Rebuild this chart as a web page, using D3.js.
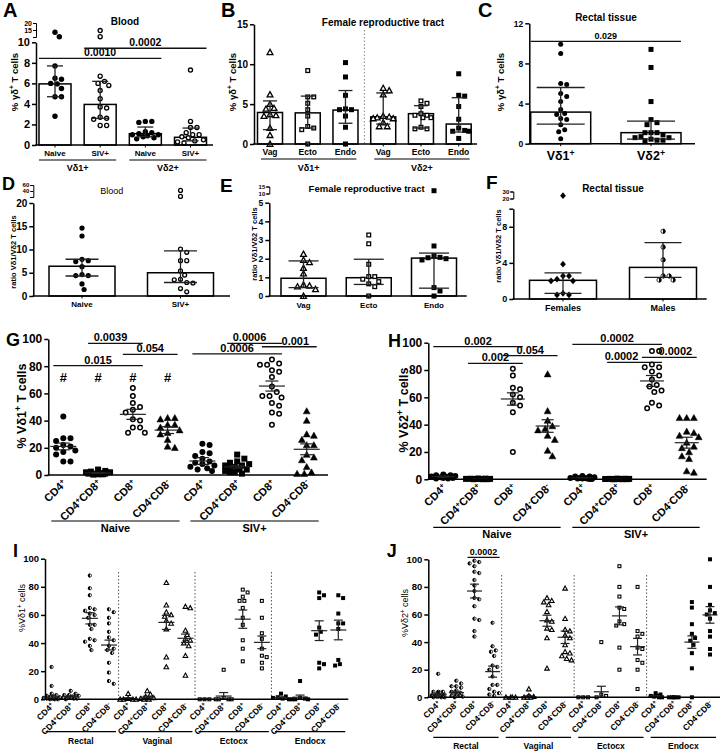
<!DOCTYPE html>
<html><head><meta charset="utf-8">
<script src="https://cdn.jsdelivr.net/npm/d3@7"></script>
<style>body{margin:0;background:#fff}svg{display:block}</style>
</head><body>
<svg id="chart" width="723" height="755"></svg>
<script>
// ================= DATA =================
// Panel A – Blood, % γδ+ T cells (median, IQR)
const aCats = ["Naive","SIV+","Naive","SIV+"];
const aGroups = ["Vδ1+","Vδ2+"];
const aMedian = [5.95, 3.95, 1.1, 0.75];
const aLow = [4.7, 2.6, 0.8, 0.4];
const aHigh = [7.7, 6.2, 1.75, 1.65];
const aPoints = [
  [13.4, 10.2, 7.7, 6.5, 6.4, 6.0, 5.95, 5.5, 4.7, 4.7, 2.8],
  [14.6, 10.2, 6.7, 6.2, 6.0, 5.8, 5.3, 4.5, 3.7, 3.6, 2.7, 2.6, 2.5, 1.9, 1.9],
  [2.3, 2.3, 2.2, 1.3, 1.2, 1.1, 1.0, 1.0, 0.9, 0.8, 0.7, 0.6],
  [7.3, 2.3, 1.7, 1.7, 1.2, 1.0, 1.0, 0.8, 0.7, 0.5, 0.4, 0.3, 0.2]
];
const aSig = [{a:0,b:2,v:8.44,t:"0.0010"},{a:1,b:3,v:9.42,t:"0.0002"}];

// Panel B – Female reproductive tract
const bCats = ["Vag","Ecto","Endo","Vag","Ecto","Endo"];
const bGroups = ["Vδ1+","Vδ2+"];
const bMedian = [3.95, 3.9, 4.25, 3.4, 3.8, 2.5];
const bLow = [1.8, 2.0, 2.6, 2.5, 2.0, 1.5];
const bHigh = [5.4, 6.0, 6.7, 6.4, 4.8, 5.8];
const bPoints = [
  [11.5, 6.2, 5.0, 4.5, 4.4, 3.7, 3.6, 3.5, 2.0, 1.1, 0.0],
  [9.2, 5.9, 5.9, 5.1, 4.3, 3.5, 2.2, 2.0, 1.8, 0.0],
  [10.2, 8.4, 6.1, 4.4, 4.3, 4.3, 3.5, 2.1, 0.0],
  [7.0, 6.7, 6.2, 3.5, 3.4, 3.3, 3.2, 3.2, 2.7, 2.2, 2.2],
  [5.4, 5.1, 4.7, 3.8, 3.6, 3.6, 3.3, 3.3, 2.1, 1.9, 1.9],
  [8.8, 6.1, 6.0, 4.7, 3.1, 2.0, 1.7, 1.6, 1.6, 0.7]
];

// Panel C – Rectal tissue
const cCats = ["Vδ1^+","Vδ2^+"];
const cMedian = [3.15, 1.1];
const cLow = [1.95, 0.45];
const cHigh = [5.6, 2.25];
const cPoints = [
  [9.9, 9.0, 6.0, 5.9, 5.0, 4.7, 4.2, 3.4, 3.0, 2.9, 2.5, 2.4, 1.9, 1.4, 1.2, 0.5],
  [9.4, 7.6, 4.2, 2.4, 2.1, 1.9, 1.1, 1.1, 1.1, 0.9, 0.6, 0.6, 0.45, 0.35, 0.35, 0.3, 0.7]
];
const cSig = [{a:0,b:1,v:10.2,t:"0.029"}];

// Panel D – Blood ratio
const dCats = ["Naive","SIV+"];
const dMedian = [6.4, 5.0];
const dLow = [4.3, 2.9];
const dHigh = [7.9, 9.7];
const dPoints = [
  [14.6, 12.9, 7.9, 7.6, 7.4, 6.3, 4.6, 4.4, 4.4, 2.6, 1.4],
  [42, 22, 10.1, 9.4, 7.6, 7.6, 5.4, 4.5, 3.6, 3.5, 2.9, 2.8, 1.6, 0.9]
];

// Panel E – Female reproductive tract ratio
const eCats = ["Vag","Ecto","Endo"];
const eMedian = [0.95, 0.98, 2.03];
const eLow = [0.45, 0.62, 0.42];
const eHigh = [1.88, 1.97, 2.3];
const ePoints = [
  [2.25, 1.93, 1.8, 1.5, 1.2, 0.6, 0.55, 0.5, 0.36, 0.0],
  [3.27, 2.8, 1.7, 1.04, 1.04, 0.9, 0.77, 0.65, 0.5, 0.0],
  [12, 2.68, 2.16, 2.07, 2.05, 2.0, 1.93, 0.45, 0.27, 0.0]
];

// Panel F – Rectal tissue ratio
const fCats = ["Females","Males"];
const fMedian = [2.07, 3.5];
const fLow = [0.63, 2.4];
const fHigh = [2.9, 6.25];
const fPoints = [
  [24, 3.85, 2.55, 2.55, 2.2, 2.0, 2.0, 0.63, 0.45, 0.45],
  [7.5, 5.75, 4.35, 2.55, 2.55, 2.1, 2.1]
];

// Panels G/H – blood subsets (mean ± SEM)
const ghCats = ["CD4^+","CD4^+CD8^+","CD8^+","CD4^-CD8^-","CD4^+","CD4^+CD8^+","CD8^+","CD4^-CD8^-"];
const ghGroups = ["Naive","SIV+"];
const gPoints = [
  [43, 27, 27, 25, 22, 21, 20, 18, 17, 15, 10, 10],
  [4, 3, 2.5, 2, 2, 1.5, 1, 1, 1, 0.5, 0.5, 0.3],
  [64, 58, 53, 50, 48, 46, 41, 40, 35, 35, 31, 31],
  [42, 42, 41, 37, 37, 35, 33, 31, 30, 26, 21, 20],
  [23, 22, 17, 16, 14, 12, 10, 9, 8, 7, 6, 5, 4, 3],
  [15, 12, 10, 9, 8, 7, 7, 6, 5, 4, 4, 3, 2, 2, 1],
  [85, 82, 81, 81, 77, 76, 72, 65, 61, 58, 58, 57, 53, 51, 46, 45, 37],
  [47, 40, 30, 29, 26, 22, 22, 15, 13, 11, 6, 2, 1, 1]
];
const gMean = [21, 1.5, 44.6, 33, 10.3, 6, 65.4, 18.9];
const gSem = [2.5, 0.3, 3.7, 2.5, 2.5, 1.0, 3.7, 4.0];
const gHash = [1, 1, 1, 1, 0, 0, 0, 0];
const gSig = [
  {a:1,b:2,v:96.8,t:"0.0039"},{a:2,b:3,v:88.7,t:"0.054"},{a:0,b:2,v:80.4,t:"0.015"},
  {a:5,b:6,v:96.8,t:"0.0006"},{a:6,b:7,v:94.3,t:"0.001"},{a:4,b:6,v:89,t:"0.0006"}
];
const hPoints = [
  [3.5, 3, 3, 2.5, 2, 2, 1.5, 1, 1, 0.5, 0.5],
  [0.6, 0.5, 0.4, 0.3, 0.3, 0.2, 0.2, 0.1, 0.1, 0.1],
  [81, 76, 67, 66, 62, 60, 56, 54, 49, 20],
  [77, 50, 43, 39, 37, 36, 32, 29, 21, 17],
  [2.5, 2, 2, 1.5, 1, 1, 0.5, 0.5, 0.5, 0.2, 0.2, 1],
  [0.5, 0.4, 0.3, 0.3, 0.2, 0.2, 0.1, 0.1, 0.1, 0.1],
  [94, 94, 84, 82, 82, 79, 76, 73, 69, 68, 65, 64, 56, 54, 52],
  [45, 45, 45, 35, 34, 32, 31, 27, 24, 23, 20, 17, 15, 6, 5]
];
const hMean = [2, 0.2, 58.8, 39, 1, 0.2, 72, 26.8];
const hSem = [0.4, 0.05, 4.5, 4.6, 0.2, 0.05, 4, 4];
const hSig = [
  {a:0,b:2,v:97.1,t:"0.002"},{a:2,b:3,v:90.5,t:"0.054"},{a:1,b:2,v:84.9,t:"0.002"},
  {a:4,b:6,v:98.8,t:"0.0002"},{a:5,b:6,v:85.6,t:"0.0002"},{a:6,b:7,v:89.3,t:"0.0002"}
];

// Panels I/J – tissues (mean ± SEM)
const ijCats = ["CD4^+","CD4^+CD8^+","CD8^+","CD4^-CD8^-","CD4^+","CD4^+CD8^+","CD8^+","CD4^-CD8^-",
                "CD4^+","CD4^+CD8^+","CD8^+","CD4^-CD8^-","CD4^+","CD4^+CD8^+","CD8^+","CD4^-CD8^-"];
const ijGroups = ["Rectal","Vaginal","Ectocx","Endocx"];
const iPoints = [
  [23, 9.5, 4, 3, 2.5, 2, 1.5, 1, 1, 0.5, 0.5, 0, 0, 0, 0.5, 1.5],
  [6, 4, 3, 3, 2.5, 2, 1.5, 1, 1, 0.5, 0.5, 0, 2],
  [88, 79, 74, 65, 64, 63, 61, 60, 58, 53, 53, 50, 43, 42, 41, 38, 35],
  [64, 62, 58, 54, 48, 44, 42, 38, 36, 35, 33, 26, 19, 13, 11],
  [4, 0.5, 0, 0, 0, 0],
  [6, 3.5, 2, 1, 0.5, 0, 0],
  [83, 67, 62, 60, 59, 56, 54, 50, 30, 23],
  [66, 65, 49, 46, 43, 42, 40, 38, 31, 17],
  [0, 0, 0],
  [21, 1, 0, 0, 0, 0],
  [78, 76, 73, 70, 70, 65, 58, 53, 42, 36, 27],
  [70, 58, 47, 43, 36, 31, 30, 26, 22],
  [4, 2, 1.5, 1, 0.5, 0],
  [13, 1, 0.5, 0, 0, 0],
  [76, 74, 72, 51, 48, 46, 26, 25, 22],
  [74, 72, 61, 54, 54, 50, 28, 25, 24]
];
const iMean = [1.5, 2, 57.6, 38.6, 0.6, 1.5, 54.7, 43.4, 0, 2.3, 57, 40.5, 1.2, 1.5, 48.8, 49.3];
const iSem = [1, 0.5, 4, 3.5, 0.5, 0.7, 5, 3, 0, 2.5, 6.5, 4.5, 0.5, 1.5, 7, 7];
const jPoints = [
  [17, 4, 4, 3.5, 2, 1.5, 1, 1, 0.5, 0.5, 0, 0, 0, 1, 2, 4],
  [12, 10, 8, 8, 7, 5, 4, 3, 2, 1, 1, 0.5, 0],
  [99, 98, 97, 95, 91, 90, 85, 81, 77, 72, 71, 66, 57, 56, 48, 44],
  [54, 37, 34, 33, 30, 23, 22, 20, 15, 9, 9, 6, 4, 3, 2, 1],
  [0, 0, 0, 0],
  [6, 1, 0.5, 0, 0, 0],
  [72, 70, 69, 67, 62, 56, 55, 50, 49, 43, 21],
  [79, 57, 49, 48, 45, 43, 38, 33, 32, 30, 28, 27],
  [0, 0, 0],
  [40, 2, 1, 0],
  [95, 80, 73, 65, 64, 55, 53, 52, 36, 20],
  [80, 48, 46, 44, 36, 35, 27, 25, 20, 6],
  [3, 2, 1, 1, 0.5, 0, 0],
  [0, 0, 0, 0, 0],
  [69, 65, 53, 46, 43, 41, 38, 32, 21, 0],
  [100, 80, 67, 63, 61, 60, 57, 48, 44, 35, 31]
];
const jMean = [2, 3.4, 77, 18.6, 0, 0.5, 55.5, 43.5, 0, 4, 59, 36.7, 0.8, 0, 40, 59.7];
const jSem = [1, 1, 5, 4, 0, 0.5, 4, 4.5, 0, 4, 6.5, 6, 0.4, 0, 4.5, 6];
const jSig = [{a:2,b:3,v:101.4,t:"0.0002"}];

// ================= DRAWING =================
const FONT = "'Liberation Sans', Arial, Helvetica, sans-serif";
const svg = d3.select("#chart");

function rich(sel, str) {
  const parts = str.split(/(\^.)/);
  let shifted = false;
  parts.forEach(p => {
    if (!p) return;
    if (p[0] === "^") {
      sel.append("tspan").attr("font-size", "70%").attr("dy", "-0.45em").text(p[1]);
      shifted = true;
    } else {
      const t = sel.append("tspan").text(p);
      if (shifted) { t.attr("dy", "0.315em"); shifted = false; }
    }
  });
  return sel;
}
function txt(g, x, y, str, fs, weight, anchor) {
  const t = g.append("text").attr("x", x).attr("y", y).attr("font-family", FONT)
    .attr("font-size", fs).attr("font-weight", weight || "bold").attr("text-anchor", anchor || "middle").attr("fill", "#000");
  return rich(t, str);
}
function vlabel(g, x, y, str, fs, weight) {
  const t = g.append("text").attr("transform", `translate(${x},${y}) rotate(-90)`).attr("font-family", FONT)
    .attr("font-size", fs).attr("font-weight", weight || "bold").attr("text-anchor", "middle")
    .attr("dominant-baseline", "central").attr("fill", "#000");
  return rich(t, str);
}
function styleAxis(a, fs) {
  a.attr("font-family", FONT);
  a.selectAll("path.domain").attr("stroke", "#000").attr("stroke-width", 1.5);
  a.selectAll(".tick line").attr("stroke", "#000").attr("stroke-width", 1.5);
  a.selectAll(".tick text").attr("font-family", FONT).attr("font-size", fs).attr("font-weight", "bold").attr("fill", "#000");
}
function swarm(ys, r, maxW) {
  const order = ys.map((_, i) => i).sort((a, b) => ys[a] - ys[b]);
  const step = r * 0.8, cands = [0];
  for (let k = 1; k * step <= maxW + 0.01; k++) cands.push(k * step, -k * step);
  const minD = 2 * r + 0.5, placed = [], off = new Array(ys.length);
  order.forEach(i => {
    let best = 0, bestScore = -1;
    for (const c of cands) {
      let md = Infinity;
      for (const p of placed) { const d = Math.hypot(c - p.x, ys[i] - p.y); if (d < md) md = d; }
      if (md >= minD) { best = c; break; }
      if (md > bestScore + 0.3) { bestScore = md; best = c; }
    }
    off[i] = best; placed.push({x: best, y: ys[i]});
  });
  return off;
}
function marker(g, type, x, y, r, sw) {
  sw = sw || 1.3;
  const k = "#000";
  if (type === "circleFill") g.append("circle").attr("cx", x).attr("cy", y).attr("r", r).attr("fill", k);
  else if (type === "circleOpen") g.append("circle").attr("cx", x).attr("cy", y).attr("r", r - sw / 2).attr("fill", "#fff").attr("stroke", k).attr("stroke-width", sw);
  else if (type === "squareFill") g.append("rect").attr("x", x - r).attr("y", y - r).attr("width", 2 * r).attr("height", 2 * r).attr("fill", k);
  else if (type === "squareOpen") { const s = r - sw / 2; g.append("rect").attr("x", x - s).attr("y", y - s).attr("width", 2 * s).attr("height", 2 * s).attr("fill", "#fff").attr("stroke", k).attr("stroke-width", sw); }
  else if (type === "triOpen" || type === "triFill") {
    const s = r * 1.15;
    g.append("path").attr("d", `M${x},${y - s}L${x + s},${y + s * 0.8}L${x - s},${y + s * 0.8}Z`)
      .attr("fill", type === "triFill" ? k : "#fff").attr("stroke", k).attr("stroke-width", type === "triFill" ? 0.5 : sw).attr("stroke-linejoin", "miter");
  }
  else if (type === "diamondFill") g.append("path").attr("d", `M${x},${y - r * 1.35}L${x + r * 1.15},${y}L${x},${y + r * 1.35}L${x - r * 1.15},${y}Z`).attr("fill", k);
  else if (type === "halfLeft" || type === "halfRight") {
    g.append("circle").attr("cx", x).attr("cy", y).attr("r", r - 0.4).attr("fill", "#fff").attr("stroke", k).attr("stroke-width", 0.8);
    const sweep = type === "halfLeft" ? 0 : 1;
    g.append("path").attr("d", `M${x},${y - r}A${r},${r} 0 0 ${sweep} ${x},${y + r}Z`).attr("fill", k);
  }
}
function sigLines(g, sig, x, y, ext, fs, dx) {
  sig.forEach((s, i) => {
    const x1 = x(s.a) - ext, x2 = x(s.b) + ext, yy = y(s.v);
    g.append("line").attr("x1", x1).attr("x2", x2).attr("y1", yy).attr("y2", yy).attr("stroke", "#111").attr("stroke-width", 1.3);
    txt(g, (x1 + x2) / 2 + (dx ? dx[i] : 0), yy - 2, s.t, fs, "bold");
  });
}

function barPanel(L, D) {
  const g = svg.append("g");
  const ym = d3.scaleLinear().domain(L.yDomain).range(L.yRange);
  const yb = L.brk ? d3.scaleLinear().domain(L.brk.domain).range(L.brk.range) : null;
  const y = v => (yb && v > L.yDomain[1]) ? yb(v) : ym(v);
  const x = d3.scalePoint().domain(d3.range(D.cats.length)).range(L.xRange);
  const y0 = ym(0);
  if (L.sep) {
    const sx = (x(L.sep - 1) + x(L.sep)) / 2;
    g.append("line").attr("x1", sx).attr("x2", sx).attr("y1", L.sepTop).attr("y2", y0).attr("stroke", "#888").attr("stroke-width", 1).attr("stroke-dasharray", "1.5,2");
  }
  g.selectAll(null).data(D.median).join("rect")
    .attr("x", (d, i) => x(i) - L.barW / 2).attr("y", d => ym(d))
    .attr("width", L.barW).attr("height", d => y0 - ym(d))
    .attr("fill", "#fff").attr("stroke", "#000").attr("stroke-width", 1.5);
  D.points.forEach((arr, i) => {
    const ys = arr.map(y);
    const off = swarm(ys, L.r, L.spread);
    arr.forEach((v, j) => marker(g, D.markers[i], x(i) + off[j], ys[j], L.r, L.sw));
  });
  D.median.forEach((m, i) => {
    const cx = x(i), lo = ym(D.low[i]), hi = ym(D.high[i]);
    g.append("line").attr("x1", cx).attr("x2", cx).attr("y1", lo).attr("y2", hi).attr("stroke", "#222").attr("stroke-width", 1.3);
    [lo, hi].forEach(v => g.append("line").attr("x1", cx - L.capW / 2).attr("x2", cx + L.capW / 2).attr("y1", v).attr("y2", v).attr("stroke", "#222").attr("stroke-width", 1.3));
  });
  const ax = g.append("g").attr("transform", `translate(${L.ax},0)`)
    .call(d3.axisLeft(ym).tickValues(L.yTicks).tickSize(4).tickSizeOuter(0).tickPadding(2)
      .tickFormat((d, i) => L.yLabels ? L.yLabels[i] : d));
  styleAxis(ax, L.tickFS);
  if (yb) {
    const bx = g.append("g").attr("transform", `translate(${L.ax},0)`)
      .call(d3.axisLeft(yb).tickValues(L.brk.ticks).tickSize(3).tickSizeOuter(3).tickPadding(1)
        .tickFormat((d, i) => L.brk.labels[i]));
    styleAxis(bx, L.brk.fs);
    bx.selectAll("path.domain,.tick line").attr("stroke-width", 1);
  }
  g.append("line").attr("x1", L.ax - 0.75).attr("x2", L.x1).attr("y1", y0).attr("y2", y0).attr("stroke", "#000").attr("stroke-width", 1.5);
  D.cats.forEach((c, i) => {
    g.append("line").attr("x1", x(i)).attr("x2", x(i)).attr("y1", y0).attr("y2", y0 + 2.5).attr("stroke", "#000").attr("stroke-width", 1);
    txt(g, x(i), L.catY, c, L.catFS, "bold");
  });
  if (D.groups) {
    D.groups.forEach((gr, k) => {
      const a = x(k * L.perGroup) - L.gExt[0], b = x(k * L.perGroup + L.perGroup - 1) + L.gExt[1];
      g.append("line").attr("x1", a).attr("x2", b).attr("y1", L.gLineY).attr("y2", L.gLineY).attr("stroke", "#000").attr("stroke-width", 1.2);
      txt(g, (a + b) / 2, L.gLabelY, gr, L.gFS, "bold");
    });
  }
  if (D.sig) sigLines(g, D.sig, x, ym, L.sigExt, L.sigFS);
  txt(g, L.title[1], L.title[2], L.title[0], L.title[3], L.title[4]);
  vlabel(g, L.ylab[1], L.ylab[2], L.ylab[0], L.ylab[3]);
  txt(g, L.letter[1], L.letter[2], L.letter[0], L.letter[3], "bold", "start");
}

function dotPanel(L, D) {
  const g = svg.append("g");
  const y = d3.scaleLinear().domain([0, 100]).range(L.yRange);
  const x = d3.scalePoint().domain(d3.range(D.cats.length)).range(L.xRange);
  const y0 = y(0);
  (L.seps || []).forEach(s => {
    const sx = (x(s - 1) + x(s)) / 2;
    g.append("line").attr("x1", sx).attr("x2", sx).attr("y1", L.sepTop).attr("y2", y0).attr("stroke", "#555").attr("stroke-width", 1).attr("stroke-dasharray", "1.5,2");
  });
  D.points.forEach((arr, i) => {
    const ys = arr.map(y);
    const off = swarm(ys, L.r, L.spread);
    arr.forEach((v, j) => marker(g, D.markers[i], x(i) + off[j], ys[j], L.r, L.sw));
  });
  D.mean.forEach((m, i) => {
    const cx = x(i), ym = y(m), lo = y(Math.max(0, m - D.sem[i])), hi = y(m + D.sem[i]);
    g.append("line").attr("x1", cx - L.meanW / 2).attr("x2", cx + L.meanW / 2).attr("y1", ym).attr("y2", ym).attr("stroke", "#222").attr("stroke-width", 1.2);
    g.append("line").attr("x1", cx).attr("x2", cx).attr("y1", lo).attr("y2", hi).attr("stroke", "#222").attr("stroke-width", 1.2);
    [lo, hi].forEach(v => g.append("line").attr("x1", cx - L.capW / 2).attr("x2", cx + L.capW / 2).attr("y1", v).attr("y2", v).attr("stroke", "#222").attr("stroke-width", 1.2));
  });
  const ax = g.append("g").attr("transform", `translate(${L.ax},0)`)
    .call(d3.axisLeft(y).tickValues([0, 20, 40, 60, 80, 100]).tickSize(4).tickSizeOuter(0).tickPadding(2));
  styleAxis(ax, L.tickFS);
  g.append("line").attr("x1", L.ax - 0.75).attr("x2", L.x1).attr("y1", y0).attr("y2", y0).attr("stroke", "#000").attr("stroke-width", 1.5);
  D.cats.forEach((c, i) => {
    const t = g.append("text").attr("transform", `translate(${x(i) + L.labDx},${y0 + L.labDy}) rotate(-45)`)
      .attr("font-family", FONT).attr("font-size", L.labFS).attr("font-weight", "bold").attr("text-anchor", "end").attr("fill", "#000");
    rich(t, c);
  });
  D.groups.forEach((gr, k) => {
    const a = x(k * L.perGroup) - L.gExt[0], b = x(k * L.perGroup + L.perGroup - 1) + L.gExt[1];
    g.append("line").attr("x1", a).attr("x2", b).attr("y1", L.gLineY).attr("y2", L.gLineY).attr("stroke", "#000").attr("stroke-width", 1.2);
    txt(g, (a + b) / 2, L.gLabelY, gr, L.gFS, "bold");
  });
  if (D.hash) D.hash.forEach((h, i) => { if (h) g.append("text").attr("x", x(i)).attr("y", y(72)).attr("dominant-baseline", "central")
      .attr("text-anchor", "middle").attr("font-family", FONT).attr("font-size", 13).attr("font-weight", "bold").text("#"); });
  if (D.sig) sigLines(g, D.sig, x, y, L.sigExt, L.sigFS, L.sigDx);
  vlabel(g, L.ylab[1], L.ylab[2], L.ylab[0], L.ylab[3], L.ylab[4]);
  txt(g, L.letter[1], L.letter[2], L.letter[0], L.letter[3], "bold", "start");
}

// ---- Panel A
barPanel({
  yDomain: [0, 10], yRange: [145, 42.3], yTicks: [0, 2, 4, 6, 8, 10],
  brk: {domain: [10, 20], range: [37, 23], ticks: [10, 15, 20], labels: ["", "15", "20"], fs: 7},
  xRange: [55, 190.5], ax: 36, x1: 213, barW: 32, capW: 16, r: 2.7, spread: 13,
  tickFS: 11, catFS: 8, catY: 156, perGroup: 2, gExt: [16, 16], gLineY: 160, gLabelY: 170.5, gFS: 9,
  sigExt: 16, sigFS: 10.5,
  title: ["Blood", 125, 25, 10, "bold"], ylab: ["% γδ^+ T cells", 14, 82, 9.5], letter: ["A", 3, 17, 20]
}, {cats: aCats, groups: aGroups, median: aMedian, low: aLow, high: aHigh, points: aPoints,
    markers: ["circleFill", "circleOpen", "circleFill", "circleOpen"], sig: aSig});

// ---- Panel B
barPanel({
  yDomain: [0, 15], yRange: [144, 24.3], yTicks: [0, 5, 10, 15],
  xRange: [270, 458.7], ax: 254, x1: 477, barW: 25, capW: 14, r: 2.5, spread: 11,
  tickFS: 10, catFS: 8.5, catY: 154.5, perGroup: 3, gExt: [9, 11], gLineY: 159, gLabelY: 170.5, gFS: 9,
  sep: 3, sepTop: 30,
  title: ["Female reproductive tract", 383, 26, 10, "bold"], ylab: ["% γδ^+ T cells", 232, 82, 9.5], letter: ["B", 221, 17, 20]
}, {cats: bCats, groups: bGroups, median: bMedian, low: bLow, high: bHigh, points: bPoints,
    markers: ["triOpen", "squareOpen", "squareFill", "triOpen", "squareOpen", "squareFill"]});

// ---- Panel C
barPanel({
  yDomain: [0, 12], yRange: [143.7, 23.3], yTicks: [0, 4, 8, 12],
  xRange: [560.7, 651], ax: 529.3, x1: 695, barW: 60, capW: 48, r: 2.5, spread: 26,
  tickFS: 8.5, catFS: 12.5, catY: 160, sigExt: 30, sigFS: 9,
  title: ["Rectal tissue", 606, 21, 10, "bold"], ylab: ["% γδ^+ T cells", 500, 82, 9.5], letter: ["C", 478, 17, 20]
}, {cats: cCats, median: cMedian, low: cLow, high: cHigh, points: cPoints,
    markers: ["circleFill", "squareFill"], sig: cSig});

// ---- Panel D
barPanel({
  yDomain: [0, 20], yRange: [296, 203], yTicks: [0, 5, 10, 15, 20],
  brk: {domain: [20, 60], range: [197, 185], ticks: [20, 40, 60], labels: ["", "40", "60"], fs: 6},
  xRange: [82, 180.5], ax: 33.3, x1: 230, barW: 66, capW: 33, r: 2.6, spread: 14,
  tickFS: 10, catFS: 8, catY: 307,
  title: ["Blood", 111.7, 193.5, 9, "normal"], ylab: ["ratio Vδ1/Vδ2 T cells", 12.7, 252, 7.5], letter: ["D", 2, 190, 18]
}, {cats: dCats, median: dMedian, low: dLow, high: dHigh, points: dPoints, markers: ["circleFill", "circleOpen"]});

// ---- Panel E
barPanel({
  yDomain: [0, 5], yRange: [296, 202.7], yTicks: [0, 1, 2, 3, 4, 5],
  brk: {domain: [10, 15], range: [193.5, 186.5], ticks: [10, 15], labels: ["10", "15"], fs: 6},
  xRange: [303.5, 434], ax: 269.3, x1: 466.7, barW: 45, capW: 30, r: 2.5, spread: 16,
  tickFS: 8.5, catFS: 8, catY: 308,
  title: ["Female reproductive tract", 366.7, 192, 9.5, "bold"], ylab: ["ratio Vδ1/Vδ2 T cells", 254, 244, 7.5], letter: ["E", 220, 192, 19]
}, {cats: eCats, median: eMedian, low: eLow, high: eHigh, points: ePoints, markers: ["triOpen", "squareOpen", "squareFill"]});

// ---- Panel F
barPanel({
  yDomain: [0, 10], yRange: [299, 208.7], yTicks: [0, 4, 8, 10], yLabels: ["0", "4", "8", ""],
  brk: {domain: [20, 30], range: [198.5, 191.5], ticks: [20, 30], labels: ["20", "30"], fs: 6},
  xRange: [563, 663], ax: 513.3, x1: 706.7, barW: 67, capW: 37, r: 2.5, spread: 24,
  tickFS: 9, catFS: 9, catY: 311,
  title: ["Rectal tissue", 613, 192, 10, "bold"], ylab: ["ratio Vδ1/Vδ2 T cells", 498, 246, 7.5], letter: ["F", 486, 189, 19]
}, {cats: fCats, median: fMedian, low: fLow, high: fHigh, points: fPoints, markers: ["diamondFill", "halfRight"]});

// ---- Panels G, H
const ghMarkers = ["circleFill", "squareFill", "circleOpen", "triFill", "circleFill", "squareFill", "circleOpen", "triFill"];
dotPanel({
  yRange: [475, 339], xRange: [63.3, 306.7], ax: 48.3, x1: 328, r: 3, sw: 1.5, spread: 13,
  meanW: 26, capW: 13, tickFS: 12, labFS: 11, labDx: 4, labDy: 9,
  perGroup: 4, gExt: [12, 12], gLineY: 521, gLabelY: 532, gFS: 11,
  sigExt: 10, sigFS: 11, sigDx: [-5, 0, 0, -5, 6, 0],
  ylab: ["% Vδ1^+ T cells", 21.7, 406, 12.5, "bold"], letter: ["G", 6, 346, 18]
}, {cats: ghCats, groups: ghGroups, points: gPoints, mean: gMean, sem: gSem, markers: ghMarkers, hash: gHash, sig: gSig});

dotPanel({
  yRange: [479.3, 342.7], xRange: [443.3, 686.7], ax: 428.3, x1: 706.7, r: 3, sw: 1.5, spread: 13,
  meanW: 24, capW: 12, tickFS: 12, labFS: 11, labDx: 4, labDy: 9,
  perGroup: 4, gExt: [10, 13], gLineY: 527.3, gLabelY: 538, gFS: 11,
  sigExt: 10, sigFS: 11, sigDx: [0, 0, 0, 0, -13, 6],
  ylab: ["% Vδ2^+ T cells", 404, 410, 12.5, "bold"], letter: ["H", 388, 347, 18]
}, {cats: ghCats, groups: ghGroups, points: hPoints, mean: hMean, sem: hSem, markers: ghMarkers, sig: hSig});

// ---- Panels I, J
const ijMarkers = ["halfLeft", "halfLeft", "halfLeft", "halfLeft", "triOpen", "triOpen", "triOpen", "triOpen",
                   "squareOpen", "squareOpen", "squareOpen", "squareOpen", "squareFill", "squareFill", "squareFill", "squareFill"];
dotPanel({
  yRange: [699.3, 558.7], xRange: [51.7, 338.3], ax: 45, x1: 348.3, r: 2, sw: 1.1, spread: 8,
  meanW: 16, capW: 9, tickFS: 9.5, labFS: 8.5, labDx: 3, labDy: 7,
  perGroup: 4, gExt: [6, 7], gLineY: 731.7, gLabelY: 743.5, gFS: 8.5,
  seps: [4, 8, 12], sepTop: 572,
  ylab: ["%Vδ1^+ cells", 22, 608, 9, "normal"], letter: ["I", 13, 557, 18]
}, {cats: ijCats, groups: ijGroups, points: iPoints, mean: iMean, sem: iSem, markers: ijMarkers});

dotPanel({
  yRange: [697.3, 559.3], xRange: [438.3, 710], ax: 428.3, x1: 720, r: 2, sw: 1.1, spread: 7,
  meanW: 15, capW: 9, tickFS: 9.5, labFS: 8.5, labDx: 3, labDy: 7,
  perGroup: 4, gExt: [5, 6], gLineY: 737.3, gLabelY: 749, gFS: 8.5,
  seps: [4, 8, 12], sepTop: 575, sigExt: 7, sigFS: 9,
  ylab: ["%Vδ2^+ cells", 405, 613, 9, "normal"], letter: ["J", 386.7, 557, 18]
}, {cats: ijCats, groups: ijGroups, points: jPoints, mean: jMean, sem: jSem, markers: ijMarkers, sig: jSig});
</script>
</body></html>
